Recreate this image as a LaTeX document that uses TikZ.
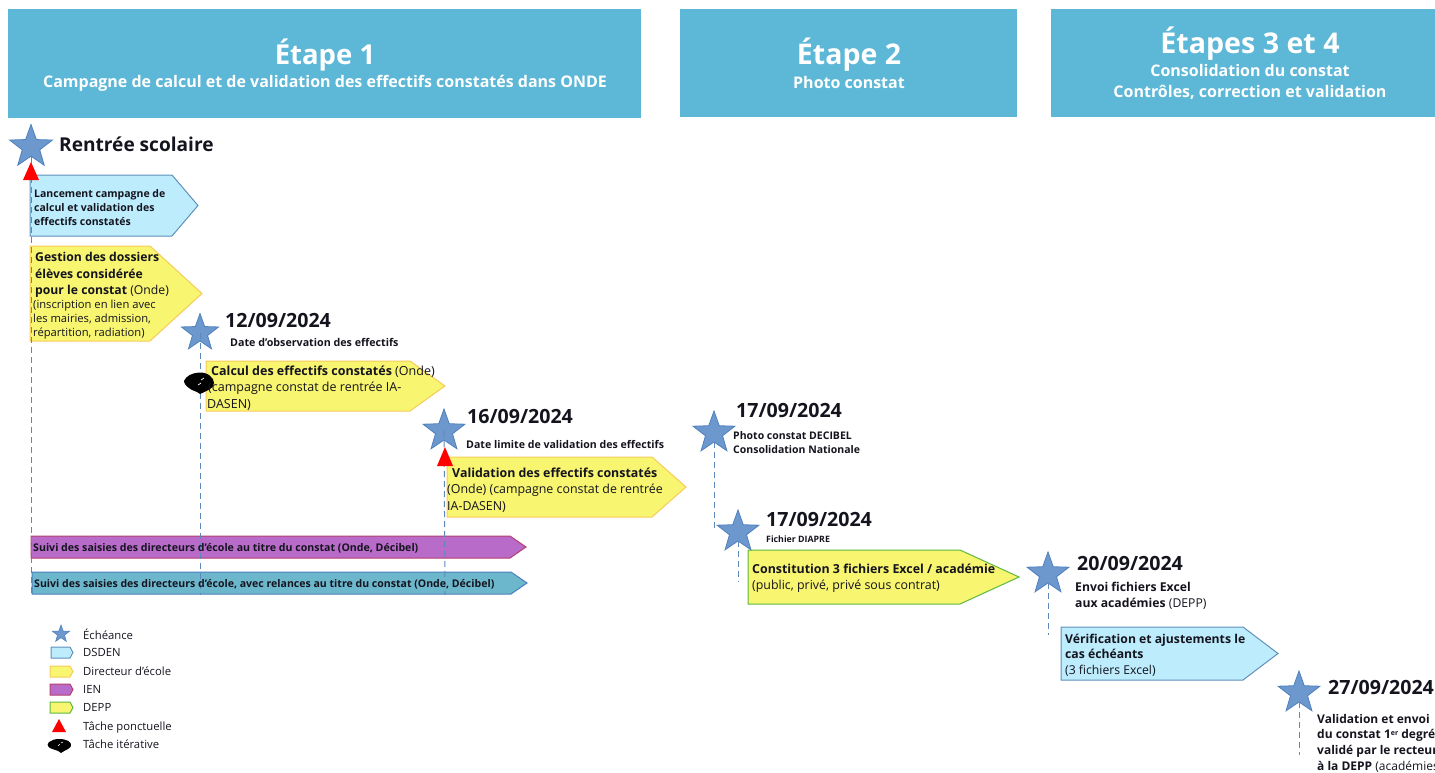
\documentclass[tikz,border=0pt]{standalone}
\usepackage{fontspec}
\setmainfont{Open Sans}
\usetikzlibrary{shapes.geometric}
\definecolor{hdr}{HTML}{5DB7D6}
\definecolor{starf}{HTML}{6C98CE}
\definecolor{stare}{HTML}{4F81BD}
\definecolor{bluef}{HTML}{BDECFC}
\definecolor{bluee}{HTML}{5F90BC}
\definecolor{yelf}{HTML}{F8F570}
\definecolor{yele}{HTML}{F7CB5B}
\definecolor{purf}{HTML}{B96BCA}
\definecolor{pure}{HTML}{B3406F}
\definecolor{teaf}{HTML}{6DB7CD}
\definecolor{teae}{HTML}{4A80BE}
\definecolor{gree}{HTML}{5DB93D}
\definecolor{dash}{HTML}{5F88BA}
\definecolor{ink}{HTML}{14141E}
\newcommand\fs[2]{\fontsize{#1}{#2}\selectfont}
\tikzset{
  hdrbox/.style={fill=hdr,draw=none},
  hdrtxt/.style={anchor=center,align=center,inner sep=0,text=white,font=\bfseries},
  bigstar/.style={star,star points=5,star point ratio=2.45,fill=starf,draw=stare,line width=.8pt,minimum size=#1,inner sep=0},
  dsden/.style={fill=bluef,draw=bluee,line width=1pt},
  dirbox/.style={fill=yelf,draw=yele,line width=1pt},
  ien/.style={fill=purf,draw=pure,line width=1pt},
  teal/.style={fill=teaf,draw=teae,line width=1pt},
  depp/.style={fill=yelf,draw=gree,line width=1pt},
  tache/.style={fill=red,draw=none},
  dashline/.style={draw=dash,line width=1pt,dash pattern=on 6pt off 4pt},
  lbl/.style={anchor=west,align=left,inner sep=0,text=ink},
  dateL/.style={lbl,font=\fs{19.6}{22}\bfseries},
  legend/.style={lbl,font=\fs{11.3}{13}},
}
\newcommand\arrowbox[6]{\draw[#1] (#2,#3) -- (#4,#3) -- (#5,{(#3+#6)/2}) -- (#4,#6) -- (#2,#6) -- cycle;}
\begin{document}
\begin{tikzpicture}[x=1pt,y=-1pt]
\useasboundingbox (0,0) rectangle (1435,773);
\begin{scope}
\clip (0,0) rectangle (1435,773);
% headers
\fill[hdrbox] (8,9) rectangle (641,118);
\fill[hdrbox] (680,9) rectangle (1017,117);
\fill[hdrbox] (1051,9) rectangle (1435,117);
\node[hdrtxt,font=\fs{27.5}{32}\bfseries] (h1) at (325,55) {Étape 1};
\node[hdrtxt,font=\fs{16}{19}\bfseries] (h1b) at (325,83) {Campagne de calcul et de validation des effectifs constatés dans ONDE};
\node[hdrtxt,font=\fs{28.5}{32}\bfseries] (h2) at (849,55) {Étape 2};
\node[hdrtxt,font=\fs{16}{19}\bfseries] (h2b) at (849,83) {Photo constat};
\node[hdrtxt,font=\fs{28.6}{32}\bfseries] (h3) at (1250,44) {Étapes 3 et 4};
\node[hdrtxt,font=\fs{16}{21}\bfseries] (h3b) at (1250,82) {Consolidation du constat\\Contrôles, correction et validation};
% boxes
\arrowbox{dsden}{30}{175}{172}{198}{236}
\arrowbox{dirbox}{30}{246}{150}{202}{341}
\arrowbox{dirbox}{206}{361}{410}{445}{411}
\arrowbox{dirbox}{447}{457}{652}{686}{517}
\arrowbox{ien}{31}{536}{510}{526}{558}
\arrowbox{teal}{32}{572}{511}{527}{594}
\arrowbox{depp}{748}{550}{960}{1019}{604}
\arrowbox{dsden}{1061}{627}{1243}{1278}{680}
% stars
\node[bigstar=45pt] (s1) at (31,147) {};
\node[bigstar=39pt] (s2) at (200,333) {};
\node[bigstar=44pt] (s3) at (444,431) {};
\node[bigstar=44pt] (s4) at (714,433) {};
\node[bigstar=44pt] (s5) at (738,532) {};
\node[bigstar=44pt] (s6) at (1048,574) {};
\node[bigstar=44pt] (s7) at (1299,693) {};
% connectors
\coordinate (e1) at (31,595);
\coordinate (e2) at (200,595);
\coordinate (e3) at (445,595);
\coordinate (e4) at (714,530);
\coordinate (e5) at (738,582);
\coordinate (e6) at (1048,635);
\coordinate (e7) at (1299,755);
\draw[dashline] (s1.south) -- (e1);
\draw[dashline] (s2.center) -- (e2);
\draw[dashline] (s3.center) -- (e3);
\draw[dashline] (s4.south) -- (e4);
\draw[dashline] (s5.south) -- (e5);
\draw[dashline] (s6.south) -- (e6);
\draw[dashline] (s7.south) -- (e7);
% red triangles
\fill[tache] (31,162) -- (39,180) -- (23,180) -- cycle;
\fill[tache] (445,447) -- (453,466) -- (437,466) -- cycle;
% iterative blob
\fill[black] (199,372.5) .. controls (208,372) and (214,378) .. (214,383) .. controls (214,389) and (206,391) .. (200,394) .. controls (197,391) and (192,391) .. (189,388) .. controls (186,386) and (184,383) .. (184,381) .. controls (186,376) and (192,373) .. (199,372.5) -- cycle;
\draw[white,line width=.7pt] (198,385) -- (201,383) (201,380) -- (204,378);
% text
\node[lbl,font=\fs{19.1}{22}\bfseries] (t0) at (59,144) {Rentrée scolaire};
\node[lbl,font=\fs{10.5}{14}\bfseries] (t1) at (34,207.5) {Lancement campagne de\\calcul et validation des\\effectifs constatés};
\node[lbl,font=\fs{12.2}{16.5}] (t2) at (35,275) {\textbf{Gestion des dossiers}\\\textbf{élèves considérée}\\\textbf{pour le constat} (Onde)};
\node[lbl,font=\fs{11.2}{14}] (t2b) at (33,319.5) {(inscription en lien avec\\les mairies, admission,\\répartition, radiation)};
\node[dateL] (d2) at (225,320) {12/09/2024};
\node[lbl,font=\fs{10.7}{12}\bfseries] (t3) at (230,342) {Date d’observation des effectifs};
\node[lbl,font=\fs{12.5}{16.5}] (t4) at (207,388) {\hspace{4pt}\textbf{Calcul des effectifs constatés} (Onde)\\\hspace{1pt}(campagne constat de rentrée IA-\\DASEN)};
\node[dateL] (d3) at (467,416) {16/09/2024};
\node[lbl,font=\fs{10.6}{12}\bfseries] (t5) at (466,444) {Date limite de validation des effectifs};
\node[lbl,font=\fs{12.4}{16.5}] (t6) at (447,490) {\hspace{5pt}\textbf{Validation des effectifs constatés}\\(Onde) (campagne constat de rentrée\\IA-DASEN)};
\node[dateL] (d4) at (736,410) {17/09/2024};
\node[lbl,font=\fs{10.5}{14}\bfseries] (t7) at (733,443) {Photo constat DECIBEL\\Consolidation Nationale};
\node[dateL] (d5) at (766,519) {17/09/2024};
\node[lbl,font=\fs{8.8}{11}\bfseries] (t8) at (766,539) {Fichier DIAPRE};
\node[lbl,font=\fs{12.4}{16.5}] (t9) at (752,578) {\textbf{Constitution 3 fichiers Excel / académie}\\(public, privé, privé sous contrat)};
\node[dateL] (d6) at (1077,563) {20/09/2024};
\node[lbl,font=\fs{12.2}{16.5}] (t10) at (1075,596) {\textbf{Envoi fichiers Excel}\\\textbf{aux académies} (DEPP)};
\node[lbl,font=\fs{12.2}{15.5}] (t11) at (1065,655) {\textbf{Vérification et ajustements le}\\\textbf{cas échéants}\\(3 fichiers Excel)};
\node[dateL] (d7) at (1328,687) {27/09/2024};
\node[lbl,font=\fs{12}{15.7}] (t12) at (1317,743) {\textbf{Validation et envoi}\\\textbf{du constat 1\raisebox{3.5pt}{\fs{7}{8}er} degré}\\\textbf{validé par le recteur}\\\textbf{à la DEPP} (académies)};
\node[lbl,font=\fs{10.6}{12}\bfseries] (t14) at (33,548) {Suivi des saisies des directeurs d’école au titre du constat (Onde, Décibel)};
\node[lbl,font=\fs{10.55}{12}\bfseries] (t15) at (34,584) {Suivi des saisies des directeurs d’école, avec relances au titre du constat (Onde, Décibel)};
% legend
\node[star,star points=5,star point ratio=2.45,fill=starf,draw=stare,line width=.6pt,minimum size=18pt,inner sep=0] (l1) at (61,634) {};
\arrowbox{dsden}{51}{647}{70}{73}{658}
\arrowbox{dirbox}{50}{666}{70}{73}{677}
\arrowbox{ien}{50}{684}{70}{73}{695}
\arrowbox{depp}{50}{702}{70}{73}{713}
\fill[tache] (59,719) -- (66,732) -- (52,732) -- cycle;
\fill[black] (59,739) .. controls (67,739) and (72,742) .. (71,746) .. controls (70,749) and (65,750) .. (61,753) .. controls (58,750) and (54,750) .. (50,748) .. controls (47,746) and (47,743) .. (49,742) .. controls (52,740) and (55,739) .. (59,739) -- cycle;
\draw[white,line width=.5pt] (58,746) -- (60,744) (61,743) -- (63,742);
\node[legend] (n1) at (83,634) {Échéance};
\node[legend] (n2) at (83,652) {DSDEN};
\node[legend] (n3) at (83,671) {Directeur d’école};
\node[legend] (n4) at (83,689) {IEN};
\node[legend] (n5) at (83,707) {DEPP};
\node[legend] (n6) at (83,727.5) {Tâche ponctuelle};
\node[legend] (n7) at (83,744.5) {Tâche itérative};
\end{scope}
\end{tikzpicture}
\end{document}
